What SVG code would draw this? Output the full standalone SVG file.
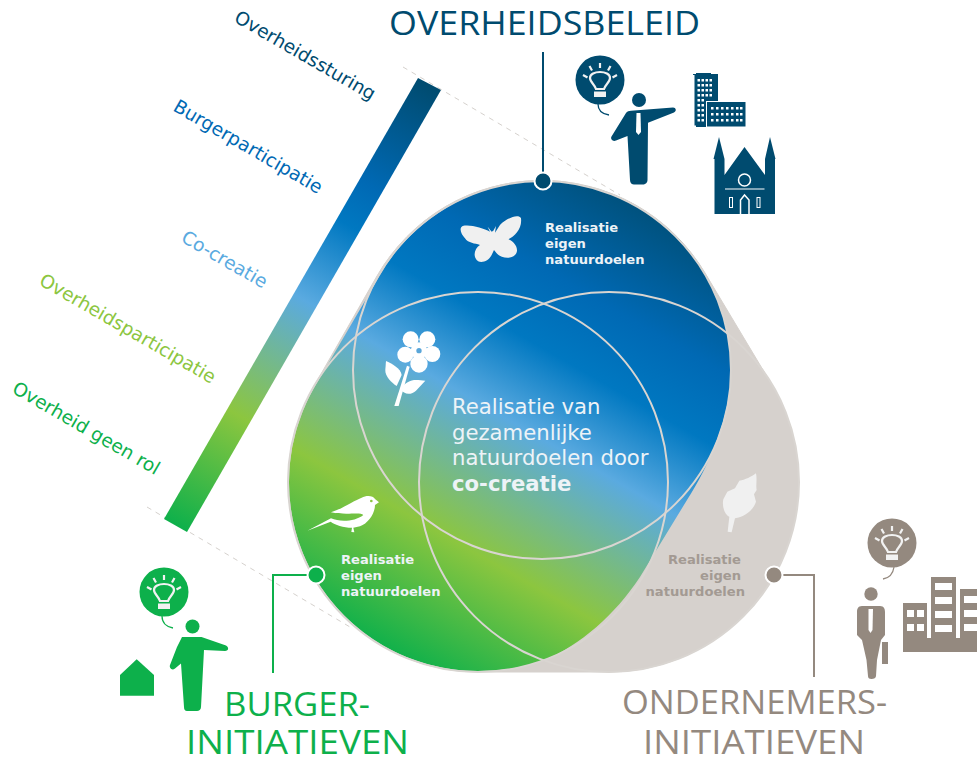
<svg xmlns="http://www.w3.org/2000/svg" xmlns:xlink="http://www.w3.org/1999/xlink" width="977" height="760" viewBox="0 0 977 760">
<style>
.lab{font-family:"DejaVu Sans",Verdana,sans-serif;font-size:18.6px}
.sm{font-family:"DejaVu Sans",Verdana,sans-serif;font-size:13.1px;font-weight:700}
.mid{font-family:"DejaVu Sans",Verdana,sans-serif;font-size:21.2px;fill:#edf3f7}
.head{font-family:"Open Sans","Noto Sans",sans-serif;font-size:32px;font-weight:400}
.ring{fill:none;stroke:#d9d5d1;stroke-width:2}
.dash{fill:none;stroke:#d5d1cd;stroke-width:1;stroke-dasharray:5 5}
.wire{fill:none;stroke-width:2}
.navy{fill:#004b6f}.green{fill:#0db04b}.grey{fill:#94897f}
.blob{fill:#f0f0f0}
</style>
<defs>
<linearGradient id="gBlob" gradientUnits="userSpaceOnUse" x1="-186" y1="325.500" x2="87" y2="-152">
<stop offset="0" stop-color="#0db04b"/><stop offset=".238" stop-color="#8cc63f"/><stop offset=".478" stop-color="#5aaae0"/><stop offset=".622" stop-color="#0078c1"/><stop offset=".747" stop-color="#0069b4"/><stop offset=".98" stop-color="#004b6f"/>
</linearGradient>
<linearGradient id="gBar" gradientUnits="userSpaceOnUse" x1="175" y1="526" x2="430" y2="84">
<stop offset="0" stop-color="#0db04b"/><stop offset=".25" stop-color="#8cc63f"/><stop offset=".51" stop-color="#5aaae0"/><stop offset=".68" stop-color="#0078c1"/><stop offset=".77" stop-color="#0069b4"/><stop offset="1" stop-color="#004b6f"/>
</linearGradient>
<g id="bulb">
<circle r="24.5"/>
<g fill="none" stroke="#f2f2f2" stroke-width="2.200">
<path d="M-4,9 C-5,5 -10,2 -10,-2 C-10,-6 -5,-8 0,-8 C5,-8 10,-6 10,-2 C10,2 5,5 4,9 Z"/>
<path d="M0,-17 V-12 M-10.500,-14 L-8,-9.500 M10.500,-14 L8,-9.500 M-17,-5 L-12.500,-2.500 M17,-5 L12.500,-2.500"/>
</g>
<rect x="-6" y="11.500" width="12" height="5.500" fill="#f2f2f2"/>
</g>
</defs>

<g id="scale-bar">
<path d="M403,67 L620,195 M147,507 L350,627" class="dash"/>
<path d="M418,78 L441,90 L187,532 L164,519 Z" fill="url(#gBar)"/>
</g>

<g id="scale-labels" class="lab">
<text transform="translate(233,21) rotate(30)" fill="#004b6f">Overheidssturing</text>
<text transform="translate(172,110) rotate(30)" fill="#0069b4">Burgerparticipatie</text>
<text transform="translate(180,241) rotate(30)" fill="#5aaae0">Co-creatie</text>
<text transform="translate(38,284) rotate(30)" fill="#8cc63f">Overheidsparticipatie</text>
<text transform="translate(11,392) rotate(30)" fill="#0db04b">Overheid geen rol</text>
</g>

<g id="venn">
<path d="M377,276 A190,190 0 0 1 705,273 L772,385 A190,190 0 0 1 609,672 L478,672 A190,190 0 0 1 313,388 Z" fill="#d6d1cd" stroke="#d6d1cd" stroke-width="1"/>
<path d="M379,277 A188,188 0 0 1 731,365 C733,410 710,465 687,500 L640,577 C615,615 580,645 545,660 C525,668 500,671 478,671 A189,189 0 0 1 314,388 Z" fill="url(#gBlob)"/>
<circle class="ring" cx="542" cy="370" r="189"/>
<circle class="ring" cx="478" cy="482" r="190"/>
<circle class="ring" cx="609" cy="482" r="190"/>
</g>

<g id="butterfly" transform="translate(340 200) scale(.3333)" class="blob">
<path d="M450,95 C430,85 390,72 368,78 C355,85 365,105 375,115 C385,130 405,130 420,135 C405,145 398,165 410,180 C420,192 445,185 455,165 L462,150 L470,160 C480,172 510,180 525,165 C540,150 525,125 505,118 C525,108 547,85 543,55 C535,40 500,55 480,75 L465,98 L468,78 L460,92 L455,95 L443,80 Z"/>
</g>

<g id="flower" transform="translate(280 280) scale(.3333)" fill="#fff">
<circle cx="392" cy="178" r="24"/><circle cx="442" cy="178" r="24"/><circle cx="457" cy="222" r="24"/><circle cx="417" cy="252" r="26"/><circle cx="376" cy="224" r="24"/><circle cx="417" cy="212" r="25"/>
<circle cx="417" cy="212" r="8" fill="#5aa6d9"/>
<path d="M381,257 L389,260 L356,378 L343,378 Z"/>
<path d="M318,243 C335,250 362,265 365,285 L350,318 C335,308 315,290 316,270 Z"/>
<path d="M436,302 L415,300 C395,298 375,305 362,328 C372,345 395,345 408,332 Z"/>
</g>

<g id="bird" transform="translate(300 485) scale(.3333)" fill="#fff">
<path d="M22,137 L93,100 C120,112 165,110 190,90 C180,80 140,92 93,82 C130,70 165,45 185,38 C200,30 220,32 225,42 L237,52 L225,60 C225,85 205,115 180,124 L160,128 L163,142 L154,141 L156,128 C130,128 105,120 92,110 Z"/>
<circle cx="214" cy="48" r="4" fill="#8cc63f"/>
</g>

<g id="leaf" transform="translate(640 460) scale(.3333)" class="blob">
<path d="M348,40 C352,60 347,75 350,90 L342,103 L348,125 C340,150 315,170 285,175 L275,217 L263,215 L268,170 C255,165 245,140 250,118 L262,95 L285,85 L298,62 C315,60 335,50 348,40 Z"/>
</g>

<g id="text-center">
<text class="mid" x="452" y="414">Realisatie van</text>
<text class="mid" x="452" y="440">gezamenlijke</text>
<text class="mid" x="452" y="465">natuurdoelen door</text>
<text class="mid" x="452" y="491" font-weight="700">co-creatie</text>
</g>

<g id="text-top" class="sm" fill="#edf3f7">
<text x="545" y="232">Realisatie</text><text x="545" y="248">eigen</text><text x="545" y="264">natuurdoelen</text>
</g>
<g id="text-left" class="sm" fill="#edf3f7">
<text x="341" y="564">Realisatie</text><text x="341" y="580">eigen</text><text x="341" y="596">natuurdoelen</text>
</g>
<g id="text-right" class="sm" fill="#a39a93" text-anchor="end">
<text x="741" y="564">Realisatie</text><text x="741" y="580">eigen</text><text x="745" y="596">natuurdoelen</text>
</g>

<g id="connectors">
<path d="M543,52 V175" class="wire" stroke="#004b6f"/>
<path d="M316,575 H273 V673" class="wire" stroke="#0db04b"/>
<path d="M774,575 H814 V677" class="wire" stroke="#94897f"/>
<circle cx="543" cy="181" r="8.500" fill="#004b6f" stroke="#fff" stroke-width="2"/>
<circle cx="316" cy="575" r="8.500" fill="#0db04b" stroke="#fff" stroke-width="2"/>
<circle cx="774" cy="575" r="8.500" fill="#94897f" stroke="#fff" stroke-width="2"/>
</g>

<g id="overheidsbeleid" class="navy">
<text class="head" x="389" y="35" textLength="311" lengthAdjust="spacingAndGlyphs">OVERHEIDSBELEID</text>
<use xlink:href="#bulb" href="#bulb" x="600" y="80"/>
<path d="M598,104 C598,110 602,114 609,115" fill="none" stroke="#004b6f" stroke-width="1.300"/>
<circle cx="639" cy="100" r="7"/>
<path d="M631,110.700 L673,107.500 C676,107.500 677,111 674,112.500 L648,122.700 L647.500,180 C647.500,183 645,184.500 643,184.500 L634,184.500 C632,184.500 630,183 630,180 L627.500,136 L616,140.500 C613,142 610,139 611.500,136.500 L626,113 C627,111.500 629,110.800 631,110.700 Z"/>
<path d="M636.500,113 H640.500 L641,132 L638.500,135 L636,132 Z" fill="#fff"/>
</g>

<g id="government-buildings" class="navy">
<path d="M693,74 H696 V73 H711 V74 H718 V102 H707 V127 H696 V125.500 H693 L694.500,125.500 V75 H693 Z"/>
<rect x="706.500" y="101.500" width="39.500" height="25.500" stroke="#fff" stroke-width="1"/>
<path d="M697.500,79h2.500v2.500h-2.500z M701.500,79h2.500v2.500h-2.500z M705.500,79h2.500v2.500h-2.500z M709.500,79h2.500v2.500h-2.500z M697.500,84h2.500v2.500h-2.500z M701.500,84h2.500v2.500h-2.500z M705.500,84h2.500v2.500h-2.500z M709.500,84h2.500v2.500h-2.500z M697.500,89h2.500v2.500h-2.500z M701.500,89h2.500v2.500h-2.500z M705.500,89h2.500v2.500h-2.500z M709.500,89h2.500v2.500h-2.500z M697.500,94h2.500v2.500h-2.500z M701.500,94h2.500v2.500h-2.500z M705.500,94h2.500v2.500h-2.500z M709.500,94h2.500v2.500h-2.500z M697.500,99h2.500v2.500h-2.500z M701.500,99h2.500v2.500h-2.500z M697.500,104h2.500v2.500h-2.500z M701.500,104h2.500v2.500h-2.500z M697.500,109h2.500v2.500h-2.500z M701.500,109h2.500v2.500h-2.500z M697.500,114h2.500v2.500h-2.500z M701.500,114h2.500v2.500h-2.500z M697.500,119h2.500v2.500h-2.500z M701.500,119h2.500v2.500h-2.500z" fill="#fff"/>
<path d="M711,107h2.500v2.500h-2.500z M716,107h2.500v2.500h-2.500z M721,107h2.500v2.500h-2.500z M726,107h2.500v2.500h-2.500z M731,107h2.500v2.500h-2.500z M736,107h2.500v2.500h-2.500z M740,107h2.500v2.500h-2.500z M711,113h2.500v2.500h-2.500z M716,113h2.500v2.500h-2.500z M721,113h2.500v2.500h-2.500z M726,113h2.500v2.500h-2.500z M731,113h2.500v2.500h-2.500z M736,113h2.500v2.500h-2.500z M740,113h2.500v2.500h-2.500z M711,119h2.500v2.500h-2.500z M716,119h2.500v2.500h-2.500z M721,119h2.500v2.500h-2.500z M726,119h2.500v2.500h-2.500z M731,119h2.500v2.500h-2.500z M736,119h2.500v2.500h-2.500z M740,119h2.500v2.500h-2.500z" fill="#fff"/>
</g>

<g id="church" class="navy">
<path d="M719,137 L724.500,159 V175 L744.500,147 L765,175 V159 L770,137 L775.500,159 H775 V214 H714.500 V159 H713.500 Z"/>
<circle cx="744.500" cy="180" r="6" fill="none" stroke="#fff" stroke-width="1.500"/>
<path d="M725,189 H764.500" stroke="#fff" stroke-width="1.200"/>
<path d="M740.500,214 V200 L744.500,195 L749,200 V214" fill="none" stroke="#fff" stroke-width="1.500"/>
<rect x="729.500" y="197.500" width="3" height="10" fill="none" stroke="#fff" stroke-width="1"/>
<rect x="757" y="197.500" width="3" height="10" fill="none" stroke="#fff" stroke-width="1"/>
</g>

<g id="burgerinitiatieven" class="green">
<use xlink:href="#bulb" href="#bulb" x="164" y="592"/>
<path d="M162,616 C162,623 167,627 173,628" fill="none" stroke="#0db04b" stroke-width="1.300"/>
<circle cx="192.500" cy="626.500" r="7"/>
<path d="M182,637 H201.500 L226,645.500 C229,647 229,651 225,651 L204,650 L201,707 C201,709.500 199,711 197,711 H187 C185,711 184,709.500 184,707 L181,663.500 L175,668.500 C172,671 169,668 170,665 L177,647 Z"/>
<path d="M120,675 L136.700,659.300 L154,675 V695.700 H120 Z"/>
<text class="head" x="224" y="716" textLength="146" lengthAdjust="spacingAndGlyphs">BURGER-</text>
<text class="head" x="186" y="754" textLength="223" lengthAdjust="spacingAndGlyphs">INITIATIEVEN</text>
</g>

<g id="ondernemersinitiatieven" class="grey">
<use xlink:href="#bulb" href="#bulb" x="892" y="543"/>
<path d="M894,567 C893,574 889,578 883,579" fill="none" stroke="#94897f" stroke-width="1.300"/>
<circle cx="871" cy="594" r="6.700"/>
<path d="M862,606 H880 C884,606 885,609 885,612 V635 L881,640 L877,660 L876,676 C876,678 874,679 871.500,679 C869,679 868,678 868,676 L866.500,660 L862,640 L857,635 V612 C857,609 858,606 862,606 Z"/>
<path d="M868.500,609 H873 L872.500,630 L870.500,633 L868.500,630 Z" fill="#fff"/>
<rect x="882" y="642" width="6" height="22"/>
<path d="M903,603 H927 V638 H931 V577 H956 V638 H960 V589 H977 V652 H903 Z"/>
<path d="M907,610h7v7h-7z M917,610h7v7h-7z M907,624h7v7h-7z M917,624h7v7h-7z M935,583h17v7h-17z M935,597h17v7h-17z M935,611h17v7h-17z M935,625h17v7h-17z M964,596h13v7h-13z M964,610h13v7h-13z M964,624h13v7h-13z" fill="#fff"/>
<text class="head" x="622" y="714" textLength="265" lengthAdjust="spacingAndGlyphs">ONDERNEMERS-</text>
<text class="head" x="643" y="754" textLength="222" lengthAdjust="spacingAndGlyphs">INITIATIEVEN</text>
</g>
</svg>
